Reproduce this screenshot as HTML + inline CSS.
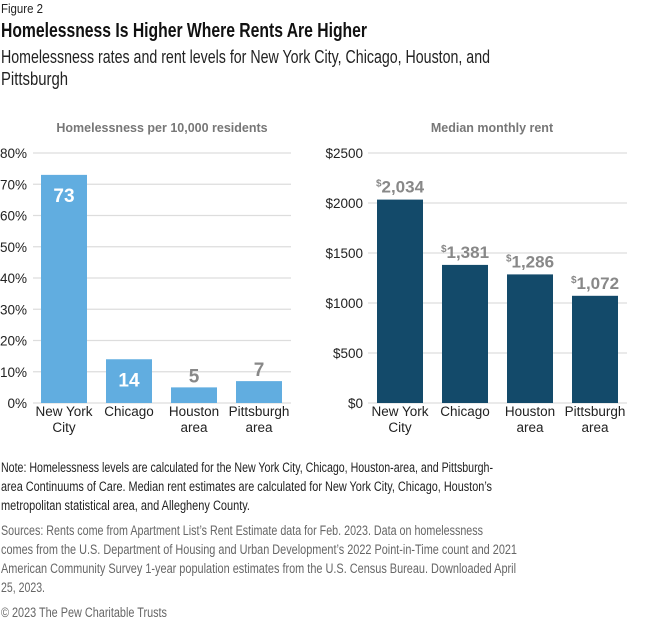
<!DOCTYPE html>
<html><head><meta charset="utf-8"><style>
html,body{margin:0;padding:0;background:#fff;}
svg{display:block;font-family:"Liberation Sans",sans-serif;}
</style></head><body>
<svg id="c" width="650" height="622" viewBox="0 0 650 622">
<g>
<text x="1" y="13" font-size="13" fill="#222" textLength="42" lengthAdjust="spacingAndGlyphs">Figure 2</text>
<text x="1" y="37" font-size="20" font-weight="bold" fill="#111" textLength="366" lengthAdjust="spacingAndGlyphs">Homelessness Is Higher Where Rents Are Higher</text>
<text x="1" y="63" font-size="18" fill="#222" textLength="489" lengthAdjust="spacingAndGlyphs">Homelessness rates and rent levels for New York City, Chicago, Houston, and</text>
<text x="1" y="85" font-size="18" fill="#222" textLength="67" lengthAdjust="spacingAndGlyphs">Pittsburgh</text>
</g>
<g id="left"></g>
<g id="right"></g>
<g font-size="13.5">
<text x="1" y="472" fill="#222" textLength="492" lengthAdjust="spacingAndGlyphs">Note: Homelessness levels are calculated for the New York City, Chicago, Houston-area, and Pittsburgh-</text>
<text x="1" y="491" fill="#222" textLength="491" lengthAdjust="spacingAndGlyphs">area Continuums of Care. Median rent estimates are calculated for New York City, Chicago, Houston’s</text>
<text x="1" y="510" fill="#222" textLength="249" lengthAdjust="spacingAndGlyphs">metropolitan statistical area, and Allegheny County.</text>
<text x="1" y="535" fill="#666" textLength="482" lengthAdjust="spacingAndGlyphs">Sources: Rents come from Apartment List’s Rent Estimate data for Feb. 2023. Data on homelessness</text>
<text x="1" y="554" fill="#666" textLength="516" lengthAdjust="spacingAndGlyphs">comes from the U.S. Department of Housing and Urban Development’s 2022 Point-in-Time count and 2021</text>
<text x="1" y="573" fill="#666" textLength="515" lengthAdjust="spacingAndGlyphs">American Community Survey 1-year population estimates from the U.S. Census Bureau. Downloaded April</text>
<text x="1" y="592" fill="#666" textLength="44" lengthAdjust="spacingAndGlyphs">25, 2023.</text>
<text x="1" y="617" fill="#666" textLength="166" lengthAdjust="spacingAndGlyphs">© 2023 The Pew Charitable Trusts</text>
</g>
</svg>
<script>
const categories=[["New York","City"],["Chicago"],["Houston","area"],["Pittsburgh","area"]];
const homelessValues=[73,14,5,7];
const homelessTicks=[0,10,20,30,40,50,60,70,80];
const rentValues=[2034,1381,1286,1072];
const rentTicks=[0,500,1000,1500,2000,2500];
const NS="http://www.w3.org/2000/svg";
function mk(p,tag,attrs,txt){const e=document.createElementNS(NS,tag);for(const k in attrs)e.setAttribute(k,attrs[k]);if(txt!=null)e.textContent=txt;p.appendChild(e);return e;}
function chart(g,o){
  const y=v=>o.y0-(v/o.max)*(o.y0-o.y1);
  const t=mk(g,'text',{x:o.cx,y:132,'font-size':12.5,'font-weight':'bold',fill:'#777','text-anchor':'middle'},o.title);
  
  
  o.ticks.forEach(v=>{
    const l=mk(g,'line',{x1:o.gx1,x2:o.gx2,y1:y(v),y2:y(v),stroke:'#ddd','stroke-width':1.2});
    
    
    const tx=mk(g,'text',{x:o.tx,y:y(v)+5,'font-size':13.5,fill:'#222','text-anchor':'end'},o.fmt(v));
    
    
  });
  o.values.forEach((v,i)=>{
    const x=o.bx+i*65;
    const r=mk(g,'rect',{x:x,y:y(v),width:46,height:o.y0-y(v),fill:o.color});
    
    
    o.label(g,v,x+23,y(v));
    categories[i].forEach((s,j)=>{
      const c=mk(g,'text',{x:x+23,y:416+j*16,'font-size':13.5,fill:'#222','text-anchor':'middle'},s);
      
      
    });
  });
}
chart(document.getElementById('left'),{title:'Homelessness per 10,000 residents',cx:162,max:80,y0:403,y1:153,gx1:33,gx2:291,tx:27,bx:41,color:'#61ade0',ticks:homelessTicks,values:homelessValues,fmt:v=>v+'%',
 label:(g,v,cx,top)=>{const inside=(403-top)>30;const t=mk(g,'text',{x:cx,y:inside?top+27:top-5,'font-size':19,'font-weight':'bold',fill:inside?'#fff':'#888','text-anchor':'middle'},String(v));
 
 }});
chart(document.getElementById('right'),{title:'Median monthly rent',cx:492,max:2500,y0:403,y1:153,gx1:368,gx2:627,tx:363,bx:377,color:'#134a6a',ticks:rentTicks,values:rentValues,fmt:v=>'$'+v,
 label:(g,v,cx,top)=>{const t=mk(g,'text',{x:cx,y:top-7,'font-size':17,'font-weight':'bold',fill:'#888','text-anchor':'middle'});
 const s=mk(t,'tspan',{'font-size':10,dy:-6},'$');const n=mk(t,'tspan',{dy:6},v.toLocaleString('en-US'));
 
 }});
</script>
</body></html>
